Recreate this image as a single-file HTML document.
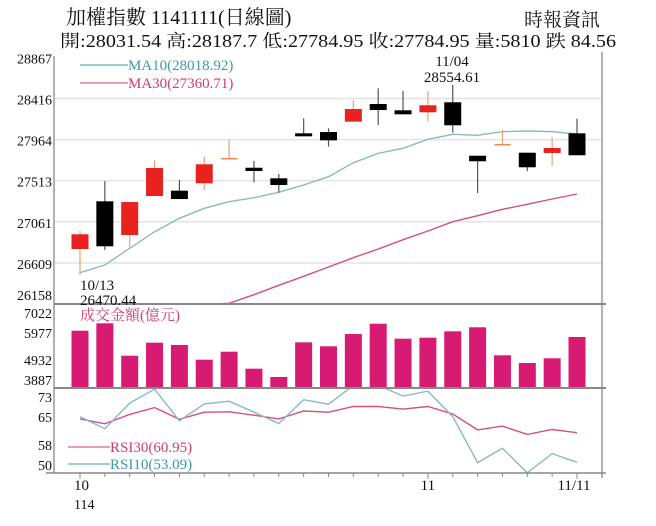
<!DOCTYPE html>
<html><head><meta charset="utf-8"><style>
body{margin:0;background:#fff;width:656px;height:526px;overflow:hidden;font-family:"Liberation Serif","Noto Serif CJK SC",serif}
svg{position:absolute;left:0;top:0}
text{font-family:"Liberation Serif","Noto Serif CJK TC",serif}
</style></head><body>
<svg id="c" width="656" height="526"></svg>
<script>
const dates=['10/13','10/14','10/15','10/16','10/17','10/20','10/21','10/22','10/23','10/24','10/27','10/28','10/29','10/30','10/31','11/03','11/04','11/05','11/06','11/07','11/10'];
const opens=[26762,27286,26916,27344,27403,27484,27754,27655,27539,28033,28047,28161,28355,28286,28264,28374,27787,27908,27820,27817,28033];
const closes=[26924,26792,27278,27652,27311,27693,27754,27619,27465,28000,27956,28300,28289,28242,28341,28121,27726,27908,27660,27872,27792];
const highs=[26963,27509,27278,27740,27520,27776,27967,27729,27586,28198,28088,28399,28527,28498,28498,28564,27787,28069,27820,27989,28194];
const lows=[26477,26751,26784,27344,27311,27410,27754,27495,27381,28000,27886,28161,28124,28242,28161,28040,27377,27908,27616,27677,27792];
const ma10=[26502,26586,26770,26952,27099,27209,27282,27326,27385,27465,27556,27710,27813,27868,27967,28022,28011,28051,28058,28051,28025];
const ma30=[26150,26150,26150,26150,26152,26155,26166,26260,26363,26462,26564,26667,26762,26864,26960,27062,27128,27198,27253,27311,27366];
const volumes=[6073,6383,5028,5572,5476,4861,5196,4485,4138,5588,5421,5935,6366,5739,5781,6048,6216,5045,4723,4920,5810];
const rsi30=[64.6,63.3,65.8,67.6,64.5,66.4,66.5,65.6,64.6,66.7,66.4,67.9,67.9,67.2,67.9,65.9,61.7,62.7,60.5,61.8,60.95];
const rsi10=[65.2,62.0,68.8,72.5,64.1,68.6,69.3,66.4,63.4,69.7,68.5,73.5,73.5,70.7,72.0,65.2,53.0,56.8,50.3,55.4,53.09];
const priceTicks=[28867,28416,27964,27513,27061,26609,26158];
const volTicks=[7022,5977,4932,3887];
const rsiTicks=[73,65,58,50];

const NS='http://www.w3.org/2000/svg',svg=document.getElementById('c');
function mk(t,a,txt,parent){const e=document.createElementNS(NS,t);for(const k in a)e.setAttribute(k,a[k]);if(txt!==undefined)e.textContent=txt;(parent||svg).appendChild(e);return e;}
const X0=54,X1=602;
const xs=i=>80+i*(577-80)/(dates.length-1);
const yP=v=>304-(v-26158)*41.1/451.5;
const yV=v=>383-(v-3887)*0.02392;
const yR=v=>387.3+(73-v)*3.766;
const defs=mk('defs',{});
const cp1=mk('clipPath',{id:'cpP'},undefined,defs);mk('rect',{x:X0,y:56,width:X1-X0,height:248},undefined,cp1);
const cp3=mk('clipPath',{id:'cpR'},undefined,defs);mk('rect',{x:X0,y:389,width:X1-X0,height:84},undefined,cp3);

let e;
e=mk('text',{x:66,y:24,'font-size':20,fill:'#111'},'加權指數 1141111(日線圖)');
e=mk('text',{x:600,y:26,'font-size':19,fill:'#111','text-anchor':'end'},'時報資訊');
e=mk('text',{x:60,y:47,'font-size':17.5,fill:'#111',textLength:556,lengthAdjust:'spacingAndGlyphs'},'開:28031.54 高:28187.7 低:27784.95 收:27784.95 量:5810 跌 84.56');

priceTicks.forEach((t,i)=>{const y=yP(t);
 if(i>0&&i<priceTicks.length-1){e=mk('line',{x1:X0,x2:X1,y1:y,y2:y,stroke:'#e4e4e4','stroke-width':1.5});}
 e=mk('text',{x:52,y:Math.min(y+6,300),'font-size':14,'text-anchor':'end',fill:'#111'},t);});
volTicks.forEach((t,i)=>{const ys=[318,338,365,385];e=mk('text',{x:52,y:ys[i],'font-size':14,'text-anchor':'end',fill:'#111'},t);});
rsiTicks.forEach((t,i)=>{const ys=[402,422,450,470];e=mk('text',{x:52,y:ys[i],'font-size':14,'text-anchor':'end',fill:'#111'},t);});

function line(arr,f,col,name,clip){const d=arr.map((v,i)=>(i?'L':'M')+xs(i).toFixed(1)+' '+f(v).toFixed(1)).join(' ');const p=mk('path',{d,fill:'none',stroke:col,'stroke-width':1.4,'clip-path':clip});}
line(ma10,yP,'#8ab8c8','ma10-line','url(#cpP)');
line(ma30,yP,'#d4507e','ma30-line','url(#cpP)');

dates.forEach((d,i)=>{const x=xs(i),up=closes[i]>opens[i],eq=closes[i]===opens[i];
 const col=eq?'#f08a50':(up?'#e8231f':'#000'),wick=up?'#f0a070':(eq?'#f0a070':'#555');
 const g=mk('g',{});
 mk('line',{x1:x,x2:x,y1:yP(highs[i]),y2:yP(lows[i]),stroke:wick,'stroke-width':1.2},undefined,g);
 const t=yP(Math.max(opens[i],closes[i])),b=yP(Math.min(opens[i],closes[i]));
 if(eq)mk('line',{x1:x-8,x2:x+8,y1:t,y2:t,stroke:col,'stroke-width':1.5},undefined,g);
 else mk('rect',{x:x-8.5,y:t,width:17,height:Math.max(b-t,3),fill:col},undefined,g);});

volumes.forEach((v,i)=>{const x=xs(i),y=yV(v);e=mk('rect',{x:x-8.5,y,width:17,height:388-y,fill:'#d81b72'});});

line(rsi30,yR,'#d4507e','rsi30-line','url(#cpR)');
line(rsi10,yR,'#8ab8c8','rsi10-line','url(#cpR)');

e=mk('line',{x1:X0,x2:X0,y1:56,y2:473,stroke:'#999','stroke-width':1.5});
e=mk('line',{x1:X1,x2:X1,y1:52,y2:478,stroke:'#999','stroke-width':1.5});
e=mk('line',{x1:X0,x2:X1+4,y1:304,y2:304,stroke:'#888','stroke-width':2});
e=mk('line',{x1:X0,x2:X1+4,y1:388,y2:388,stroke:'#888','stroke-width':2});
e=mk('line',{x1:X0-8,x2:X1+4,y1:473,y2:473,stroke:'#888','stroke-width':1.5});
dates.forEach((d,i)=>{e=mk('line',{x1:xs(i),x2:xs(i),y1:473,y2:[0,14,20].includes(i)?479:477,stroke:'#888'});});
[['10',0,'start',-6],['11',14,'middle',0],['11/11',20,'middle',-3]].forEach(a=>{e=mk('text',{x:xs(a[1])+a[3],y:490,'font-size':15,'text-anchor':a[2],fill:'#111'},a[0]);});
e=mk('text',{x:74,y:509,'font-size':14,fill:'#111'},'114');

function leg(y,col,txt,name,x0,x1){const g=mk('g',{});
 mk('line',{x1:x0,x2:x1,y1:y,y2:y,stroke:col,'stroke-width':1},undefined,g);mk('text',{x:x1,y:y+5,'font-size':15,fill:col},txt,g);}
leg(65,'#3a98ae','MA10(28018.92)','ma10-legend',80,128);
leg(83,'#d43a6e','MA30(27360.71)','ma30-legend',80,128);
leg(447,'#d43a6e','RSI30(60.95)','rsi30-legend',68,110);
leg(464,'#3a98ae','RSI10(53.09)','rsi10-legend',68,110);
e=mk('text',{x:80,y:320,'font-size':15,fill:'#d43a6e'},'成交金額(億元)');
e=mk('text',{x:452,y:66,'font-size':15,'text-anchor':'middle',fill:'#111'},'11/04');
e=mk('text',{x:452,y:82,'font-size':15,'text-anchor':'middle',fill:'#111'},'28554.61');
e=mk('text',{x:80,y:290,'font-size':15,fill:'#111'},'10/13');
e=mk('text',{x:80,y:305,'font-size':15,fill:'#111'},'26470.44');
</script>
</body></html>
